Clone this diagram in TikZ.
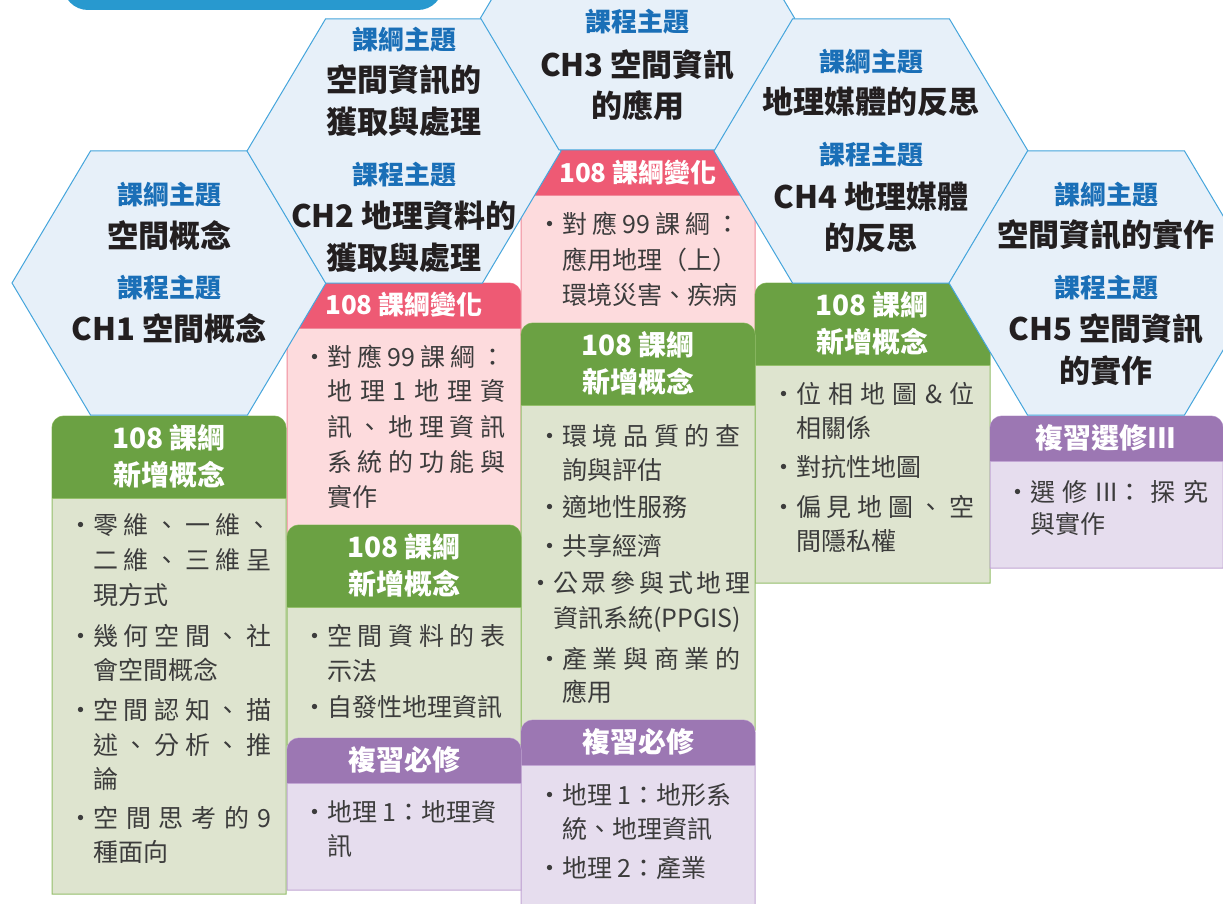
\documentclass[tikz,border=0pt]{standalone}
\usepackage{fontspec}
\setmainfont{Noto Sans CJK TC}
\definecolor{hexfill}{HTML}{E7F0F9}
\definecolor{hexline}{HTML}{45A5DC}
\definecolor{labelblue}{HTML}{1A6FB7}
\definecolor{titleblack}{HTML}{231F20}
\definecolor{bodytext}{HTML}{3C3C3C}
\definecolor{topbar}{HTML}{2899CF}
\definecolor{pinkhead}{HTML}{EE5A74}
\definecolor{pinkbody}{HTML}{FDDBDD}
\definecolor{pinkline}{HTML}{F08A9A}
\definecolor{greenhead}{HTML}{6BA143}
\definecolor{greenbody}{HTML}{DEE4CF}
\definecolor{greenline}{HTML}{94BF6A}
\definecolor{purplehead}{HTML}{9C77B3}
\definecolor{purplebody}{HTML}{E6DDEE}
\definecolor{purpleline}{HTML}{C2A6D4}
% section box: x1, x2, top, header bottom, bottom, colour prefix
\newcommand\sect[6]{%
  \filldraw[fill=#6body, draw=#6line, line width=1pt]
    (#1,-#5) -- (#1,-#3-12) arc[start angle=180,end angle=90,radius=12pt]
    -- (#2-12,-#3) arc[start angle=90,end angle=0,radius=12pt] -- (#2,-#5) -- cycle;
  \fill[#6head]
    (#1,-#4) -- (#1,-#3-12) arc[start angle=180,end angle=90,radius=12pt]
    -- (#2-12,-#3) arc[start angle=90,end angle=0,radius=12pt] -- (#2,-#4) -- cycle;
  \draw[#6line, line width=1pt] (#1,-#4) -- (#2,-#4);}
\newcommand\hexat[2]{%
  \filldraw[hex] (#1-157,-#2) -- (#1-78.5,-#2+132) -- (#1+78.5,-#2+132)
    -- (#1+157,-#2) -- (#1+78.5,-#2-132) -- (#1-78.5,-#2-132) -- cycle;}
\newcommand\bl[4]{\node[body,anchor=west] (#1) at (#2,-#3) {#4};}
\newcommand\jl[2][178pt]{\makebox[#1][s]{#2}}
\begin{document}
\begin{tikzpicture}[x=1pt,y=1pt,
  hex/.style={fill=hexfill, draw=hexline, line width=1pt},
  lbl/.style={text=labelblue, font=\fontsize{26}{30}\selectfont\bfseries, inner sep=0pt},
  ttl/.style={text=titleblack, font=\fontsize{31}{41.5}\selectfont\bfseries, align=center, inner sep=0pt},
  hd/.style={text=white, font=\fontsize{28}{37}\selectfont\bfseries, align=center, inner sep=0pt},
  hdp/.style={text=white, font=\fontsize{26}{30}\selectfont\bfseries, align=center, inner sep=0pt},
  body/.style={text=bodytext, font=\fontsize{25}{34}\selectfont, inner sep=0pt, text height=22pt, text depth=3pt}]
\useasboundingbox (0,0) rectangle (1223,-904);
\clip (0,0) rectangle (1223,-904);
\fill[white] (0,0) rectangle (1223,-904);
\fill[topbar, rounded corners=25pt] (63,-10) rectangle (443,40);

% boxes
\sect{287}{521}{283}{328}{540}{pink}
\sect{521}{755}{150}{196}{335}{pink}
\sect{755}{990}{283}{365}{583}{green}
\sect{521}{755}{323}{405}{730}{green}
\sect{287}{521}{525}{607}{745}{green}
\sect{52}{286}{416}{498}{894}{green}
\sect{990}{1223}{416}{461}{568}{purple}
\sect{521}{755}{720}{765}{920}{purple}
\sect{287}{521}{738}{783}{890}{purple}

% hexagons
\hexat{169}{283}
\hexat{404}{151}
\hexat{637.5}{18}
\hexat{871}{151}
\hexat{1106}{283}

% hexagon texts
\node[lbl] (h1a) at (169,-195) {課綱主題};
\node[ttl] (h1b) at (169,-236) {空間概念};
\node[lbl] (h1c) at (169,-288) {課程主題};
\node[ttl] (h1d) at (169,-329) {CH1 空間概念};

\node[lbl] (h2a) at (404,-40) {課綱主題};
\node[ttl] (h2b) at (404,-100.5) {空間資訊的\\獲取與處理};
\node[lbl] (h2c) at (404,-175) {課程主題};
\node[ttl] (h2d) at (404,-236.5) {CH2 地理資料的\\獲取與處理};

\node[lbl] (h3a) at (637.5,-22) {課程主題};
\node[ttl] (h3b) at (637.5,-85) {CH3 空間資訊\\的應用};

\node[lbl] (h4a) at (871,-62) {課綱主題};
\node[ttl] (h4b) at (871,-102) {地理媒體的反思};
\node[lbl] (h4c) at (871,-155) {課程主題};
\node[ttl] (h4d) at (871,-217) {CH4 地理媒體\\的反思};

\node[lbl] (h5a) at (1106,-195) {課綱主題};
\node[ttl] (h5b) at (1106,-235) {空間資訊的實作};
\node[lbl] (h5c) at (1106,-288) {課程主題};
\node[ttl] (h5d) at (1106,-349.5) {CH5 空間資訊\\的實作};

% headers
\node[hd] (g1) at (169,-456.5) {108 課綱\\新增概念};
\node[hdp] (p2) at (404,-305) {108 課綱變化};
\node[hd] (g2) at (404,-565.5) {108 課綱\\新增概念};
\node[hd] (v2) at (404,-760) {複習必修};
\node[hdp] (p3) at (638,-173) {108 課綱變化};
\node[hd] (g3) at (638,-363.5) {108 課綱\\新增概念};
\node[hd] (v3) at (638,-742) {複習必修};
\node[hd] (g4) at (872,-323.5) {108 課綱\\新增概念};
\node[hd] (v5) at (1106,-438) {複習選修III};

% column 1 body
\bl{c1a}{93}{525}{\llap{・}\jl{零 維 、 一 維 、}}
\bl{c1b}{93}{560}{\jl{二 維 、 三 維 呈}}
\bl{c1c}{93}{595}{現方式}
\bl{c1d}{93}{636}{\llap{・}\jl{幾 何 空 間 、 社}}
\bl{c1e}{93}{670}{會空間概念}
\bl{c1f}{93}{710}{\llap{・}\jl{空 間 認 知 、 描}}
\bl{c1g}{93}{745}{\jl{述 、 分 析 、 推}}
\bl{c1h}{93}{779}{論}
\bl{c1i}{93}{818}{\llap{・}\jl{空 間 思 考 的 9}}
\bl{c1j}{93}{852}{種面向}

% column 2 body
\bl{c2a}{327}{357}{\llap{・}\jl{對 應 99 課 綱 ：}}
\bl{c2b}{327}{391}{\jl{地 理 1 地 理 資}}
\bl{c2c}{327}{427}{\jl{訊 、 地 理 資 訊}}
\bl{c2d}{327}{462}{\jl{系 統 的 功 能 與}}
\bl{c2e}{327}{497}{實作}
\bl{c2f}{327}{636}{\llap{・}\jl{空 間 資 料 的 表}}
\bl{c2g}{327}{671}{示法}
\bl{c2h}{327}{707}{\llap{・}自發性地理資訊}
\bl{c2i}{327}{812}{\llap{・}地理 1：地理資}
\bl{c2j}{327}{846}{訊}

% column 3 body
\bl{c3a}{562}{224}{\llap{・}\jl{對 應 99 課 綱 ：}}
\bl{c3b}{562}{260}{應用地理（上）}
\bl{c3c}{562}{295}{環境災害、疾病}
\bl{c3d}{562}{436}{\llap{・}\jl{環 境 品 質 的 查}}
\bl{c3e}{562}{470}{詢與評估}
\bl{c3f}{562}{507}{\llap{・}適地性服務}
\bl{c3g}{562}{546}{\llap{・}共享經濟}
\bl{c3h}{553}{583}{\llap{・}\jl[187pt]{公 眾 參 與 式 地 理}}
\bl{c3i}{553}{618}{資訊系統(PPGIS)}
\bl{c3j}{562}{659}{\llap{・}\jl{產 業 與 商 業 的}}
\bl{c3k}{562}{692}{應用}
\bl{c3l}{562}{795}{\llap{・}地理 1：地形系}
\bl{c3m}{562}{829}{統、地理資訊}
\bl{c3n}{562}{868}{\llap{・}地理 2：產業}

% column 4 body
\bl{c4a}{796}{394}{\llap{・}\jl{位 相 地 圖 \& 位}}
\bl{c4b}{796}{428}{相關係}
\bl{c4c}{796}{467}{\llap{・}對抗性地圖}
\bl{c4d}{796}{507}{\llap{・}\jl{偏 見 地 圖 、 空}}
\bl{c4e}{796}{541}{間隱私權}

% column 5 body
\bl{c5a}{1030}{492}{\llap{・}\jl{選 修 III： 探 究}}
\bl{c5b}{1030}{524}{與實作}
\end{tikzpicture}
\end{document}
